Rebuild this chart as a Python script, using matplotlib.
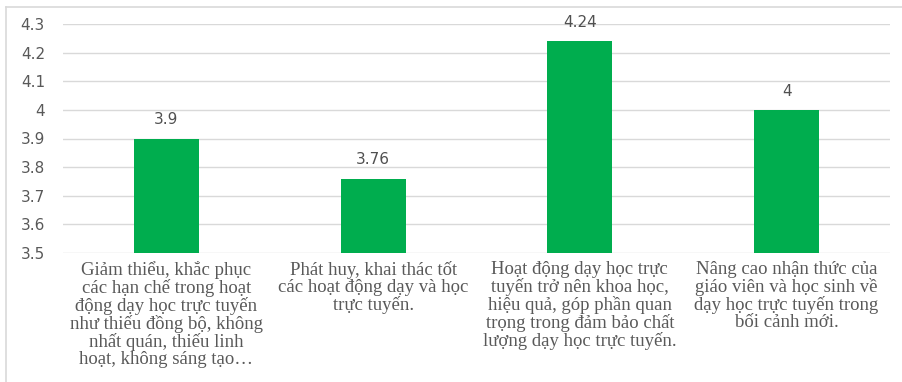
import matplotlib
matplotlib.use("Agg")
import matplotlib.pyplot as plt
from matplotlib.lines import Line2D

categories = [
    "Giảm thiểu, khắc phục\ncác hạn chế trong hoạt\nđộng dạy học trực tuyến\nnhư thiếu đồng bộ, không\nnhất quán, thiếu linh\nhoạt, không sáng tạo…",
    "Phát huy, khai thác tốt\ncác hoạt động dạy và học\ntrực tuyến.",
    "Hoạt động dạy học trực\ntuyến trở nên khoa học,\nhiệu quả, góp phần quan\ntrọng trong đảm bảo chất\nlượng dạy học trực tuyến.",
    "Nâng cao nhận thức của\ngiáo viên và học sinh về\ndạy học trực tuyến trong\nbối cảnh mới.",
]
values = [3.9, 3.76, 4.24, 4.0]
value_labels = ["3.9", "3.76", "4.24", "4"]
yticks = [3.5, 3.6, 3.7, 3.8, 3.9, 4.0, 4.1, 4.2, 4.3]
ytick_labels = ["3.5", "3.6", "3.7", "3.8", "3.9", "4", "4.1", "4.2", "4.3"]

fig = plt.figure(figsize=(9.03, 3.82), dpi=100)
ax = fig.add_axes([63/903, 1-253/382, (890-63)/903, (253-24)/382])

x = list(range(len(values)))
ax.bar(x, values, width=0.315, color="#00AD4E", bottom=0, zorder=3)
ax.set_xlim(-0.5, len(values) - 0.5)
ax.set_ylim(3.5, 4.3)
ax.set_yticks(yticks)
ax.set_yticklabels(ytick_labels, color="#595959", fontsize=11, family="DejaVu Sans")
ax.yaxis.grid(True, color="#D9D9D9", linewidth=1.0, zorder=0)
ax.set_xticks(x)
ax.set_xticklabels([])
for s in ax.spines.values():
    s.set_visible(False)
ax.tick_params(axis="both", length=0)
ax.tick_params(axis="y", pad=13)

for xi, v, lab in zip(x, values, value_labels):
    ax.annotate(lab, (xi, v), xytext=(0, 8), textcoords="offset points",
                ha="center", va="bottom", fontsize=11, color="#505050",
                family="DejaVu Sans")

for xi, cat in zip(x, categories):
    ax.annotate(cat, (xi, 3.5), xytext=(0, -6), textcoords="offset points",
                ha="center", va="top", fontsize=13.5, color="#595959",
                family="Liberation Serif", linespacing=1.0,
                annotation_clip=False)

# outer chart border (top and left visible)
fig.add_artist(Line2D([6/903, 1], [1-6.5/382, 1-6.5/382], color="#D9D9D9", lw=1.2, transform=fig.transFigure))
fig.add_artist(Line2D([6.5/903, 6.5/903], [0, 1-6.5/382], color="#D9D9D9", lw=1.2, transform=fig.transFigure))

fig.savefig("out.png", dpi=100, facecolor="white")
